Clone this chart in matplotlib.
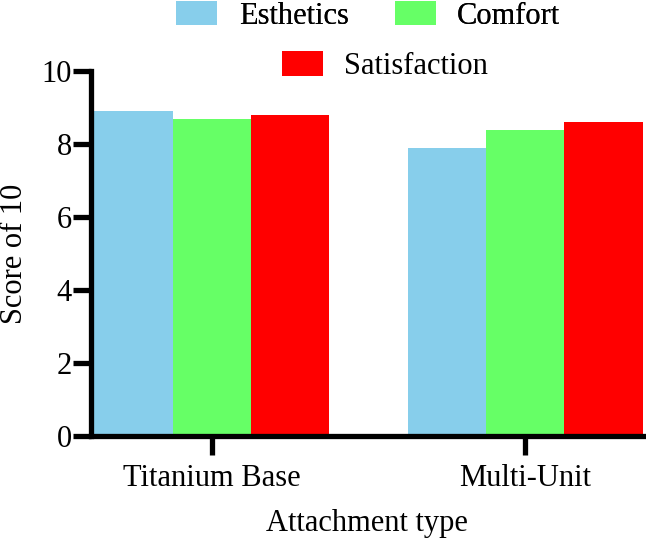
import numpy as np
import matplotlib.pyplot as plt
from matplotlib.patches import Patch

# Data
categories = ['Titanium Base', 'Multi-Unit']
series = ['Esthetics', 'Comfort', 'Satisfaction']
esthetics = [8.9, 7.9]
comfort = [8.7, 8.4]
satisfaction = [8.8, 8.6]
colors = ['#87CEEB', '#66FF66', '#FF0000']

plt.rcParams['font.family'] = ['Liberation Serif', 'DejaVu Serif']
fs = 22

fig = plt.figure(figsize=(6.46, 5.43), dpi=100)
ax = fig.add_axes([0.141, 0.197, 0.854, 0.672])

x = np.arange(len(categories))
w = 0.25
values = [esthetics, comfort, satisfaction]
for i, (name, vals) in enumerate(zip(series, values)):
    ax.bar(x + (i - 1) * w, vals, width=w, color=colors[i], label=name)

ax.set_xlim(-0.385, 1.375)
ax.set_ylim(0, 10)
ax.set_yticks([0, 2, 4, 6, 8, 10])
ax.set_xticks(x)
ax.set_xticklabels(categories)

for side in ['top', 'right']:
    ax.spines[side].set_visible(False)
for side in ['left', 'bottom']:
    ax.spines[side].set_linewidth(3.8)
    ax.spines[side].set_capstyle('projecting')

ax.tick_params(axis='y', length=13, width=3.8, labelsize=fs, pad=1)
ax.tick_params(axis='x', length=14, width=3.8, labelsize=fs, pad=6)

ax.set_ylabel('Score of 10', fontsize=fs, labelpad=9)
ax.set_xlabel('Attachment type', fontsize=fs, labelpad=12)

# legend: two on top row, one centred below
handles = [Patch(facecolor=c) for c in colors]
leg1 = fig.legend(handles[:2], series[:2], ncol=2, loc='center',
                  bbox_to_anchor=(0.570, 0.971), frameon=False, fontsize=fs,
                  handlelength=1.35, handleheight=0.85, handletextpad=0.7,
                  columnspacing=1.5, borderpad=0)
leg2 = fig.legend(handles[2:], series[2:], loc='center',
                  bbox_to_anchor=(0.596, 0.878), frameon=False, fontsize=fs,
                  handlelength=1.35, handleheight=0.85, handletextpad=0.7,
                  borderpad=0)
fig.add_artist(leg1)

fig.savefig('out.png', dpi=100)
